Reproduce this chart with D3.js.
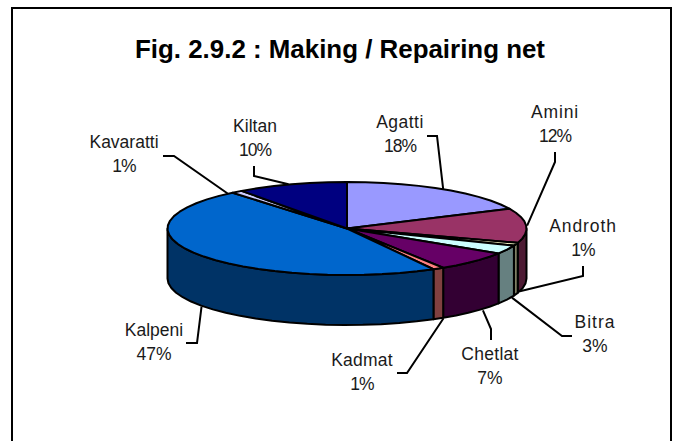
<!DOCTYPE html>
<html lang="en">
<head>
<meta charset="utf-8">
<title>Fig. 2.9.2 : Making / Repairing net</title>
<script src="https://d3js.org/d3.v7.min.js"></script>
<style>
  body { margin: 0; background: #fff; }
  text { font-family: "Liberation Sans", Arial, sans-serif; fill: #000; }
  .title { font-size: 25.9px; font-weight: bold; text-anchor: middle; }
  .label { font-size: 17.5px; text-anchor: middle; fill: #1a1a1a; }
</style>
</head>
<body>
<div id="chart"></div>
<script>
// data
var islands = ["Agatti", "Amini", "Androth", "Bitra", "Chetlat", "Kadmat", "Kalpeni", "Kavaratti", "Kiltan"];
var shares = [18, 12, 1, 3, 7, 1, 47, 1, 10];
var colors = ["#9999ff", "#993366", "#ffffcc", "#ccffff", "#660066", "#ff8080", "#0066cc", "#ccccff", "#000080"];

// label text centre, elbow of the leader line, nudge of its tip, letter spacing, by island
var labelPos = {
  Agatti:    {x: 400, y: 128, elbow: [[427, 136], [437, 136]], tip: [0, 0], ls: 0.5},
  Amini:     {x: 555, y: 118, elbow: [[555, 152], [555, 162]], tip: [1, 0], ls: 0.8},
  Androth:   {x: 583, y: 232, elbow: [[583, 266], [583, 276]], tip: [4, -3], ls: 0.9},
  Bitra:     {x: 595, y: 328, elbow: [[572, 336], [562, 336]], tip: [5, -2], ls: 1},
  Chetlat:   {x: 490, y: 360, elbow: [[491, 340], [491, 329]], tip: [9, -1], ls: 0.3},
  Kadmat:    {x: 362, y: 366, elbow: [[397, 373], [407, 373]], tip: [5, 0], ls: 0.2},
  Kalpeni:   {x: 154, y: 336, elbow: [[186, 343], [197, 343]], tip: [3, 2], ls: 0},
  Kavaratti: {x: 124, y: 148, elbow: [[163, 156], [174, 156]], tip: [-9, 2], ls: 0},
  Kiltan:    {x: 255, y: 132, elbow: [[254, 166], [254, 176]], tip: [-3, 0], ls: 0}
};

var width = 678, height = 441;
var cx = 347, cy = 228.5, rx = 179.5, ry = 46.5, depth = 50;

var svg = d3.select("#chart").append("svg")
    .attr("width", width)
    .attr("height", height);

// frame, open at the bottom
svg.append("path")
    .attr("d", "M12," + height + "V8H671V" + height)
    .attr("fill", "none")
    .attr("stroke", "#000")
    .attr("stroke-width", 2);

svg.append("text")
    .attr("class", "title")
    .attr("x", 340)
    .attr("y", 58)
    .text("Fig. 2.9.2 : Making / Repairing net");

var x = d3.scaleLinear().domain([-1, 1]).range([cx - rx, cx + rx]);
var y = d3.scaleLinear().domain([-1, 1]).range([cy - ry, cy + ry]);

var pie = d3.pie().sort(null);
var slices = pie(shares);

function rim(a, drop) {
  return [x(Math.sin(a)), y(-Math.cos(a)) + (drop || 0)];
}

// rim points between two angles, coarse steps like the original's jagged edge
function arcPoints(a0, a1, drop) {
  var n = Math.max(1, Math.ceil((a1 - a0) / (Math.PI / 30)));
  return d3.range(n + 1).map(function (i) {
    return rim(a0 + (a1 - a0) * i / n, drop);
  });
}

var line = d3.line();

function halfColor(c) {
  var r = d3.rgb(c);
  return d3.rgb(r.r / 2, r.g / 2, r.b / 2).formatHex();
}

// side walls: only the front half of the pie shows
var sides = svg.append("g");
slices.forEach(function (s, i) {
  var a0 = Math.max(s.startAngle, Math.PI / 2);
  var a1 = Math.min(s.endAngle, Math.PI * 1.5);
  if (a1 <= a0) return;
  var pts = arcPoints(a0, a1, 0).concat(arcPoints(a0, a1, depth).reverse());
  sides.append("path")
      .attr("d", line(pts) + "Z")
      .attr("fill", halfColor(colors[i]))
      .attr("stroke", "#000")
      .attr("stroke-width", 2)
      .attr("stroke-linejoin", "round");
});

// top face
var tops = svg.append("g");
slices.forEach(function (s, i) {
  var pts = [[cx, cy]].concat(arcPoints(s.startAngle, s.endAngle, 0));
  tops.append("path")
      .attr("d", line(pts) + "Z")
      .attr("fill", colors[i])
      .attr("stroke", "#000")
      .attr("stroke-width", 2)
      .attr("stroke-linejoin", "round");
});

// leader lines and labels
slices.forEach(function (s, i) {
  var name = islands[i];
  var pos = labelPos[name];
  var mid = (s.startAngle + s.endAngle) / 2;
  var onFront = mid > Math.PI / 2 && mid < Math.PI * 1.5;
  var end = rim(mid, onFront ? depth : 0);
  end = [end[0] + pos.tip[0], end[1] + pos.tip[1]];

  svg.append("path")
      .attr("d", line(pos.elbow.concat([end])))
      .attr("fill", "none")
      .attr("stroke", "#000")
      .attr("stroke-width", 2);

  svg.append("text")
      .attr("class", "label")
      .attr("x", pos.x)
      .attr("y", pos.y)
      .style("letter-spacing", pos.ls + "px")
      .text(name);

  // the "1" sits tight against the next glyph in the original
  var pct = shares[i] + "%";
  svg.append("text")
      .attr("class", "label")
      .attr("x", pos.x)
      .attr("y", pos.y + 24)
      .style("letter-spacing", pct.charAt(0) === "1" ? "-1px" : "0")
      .text(pct);
});
</script>
</body>
</html>
